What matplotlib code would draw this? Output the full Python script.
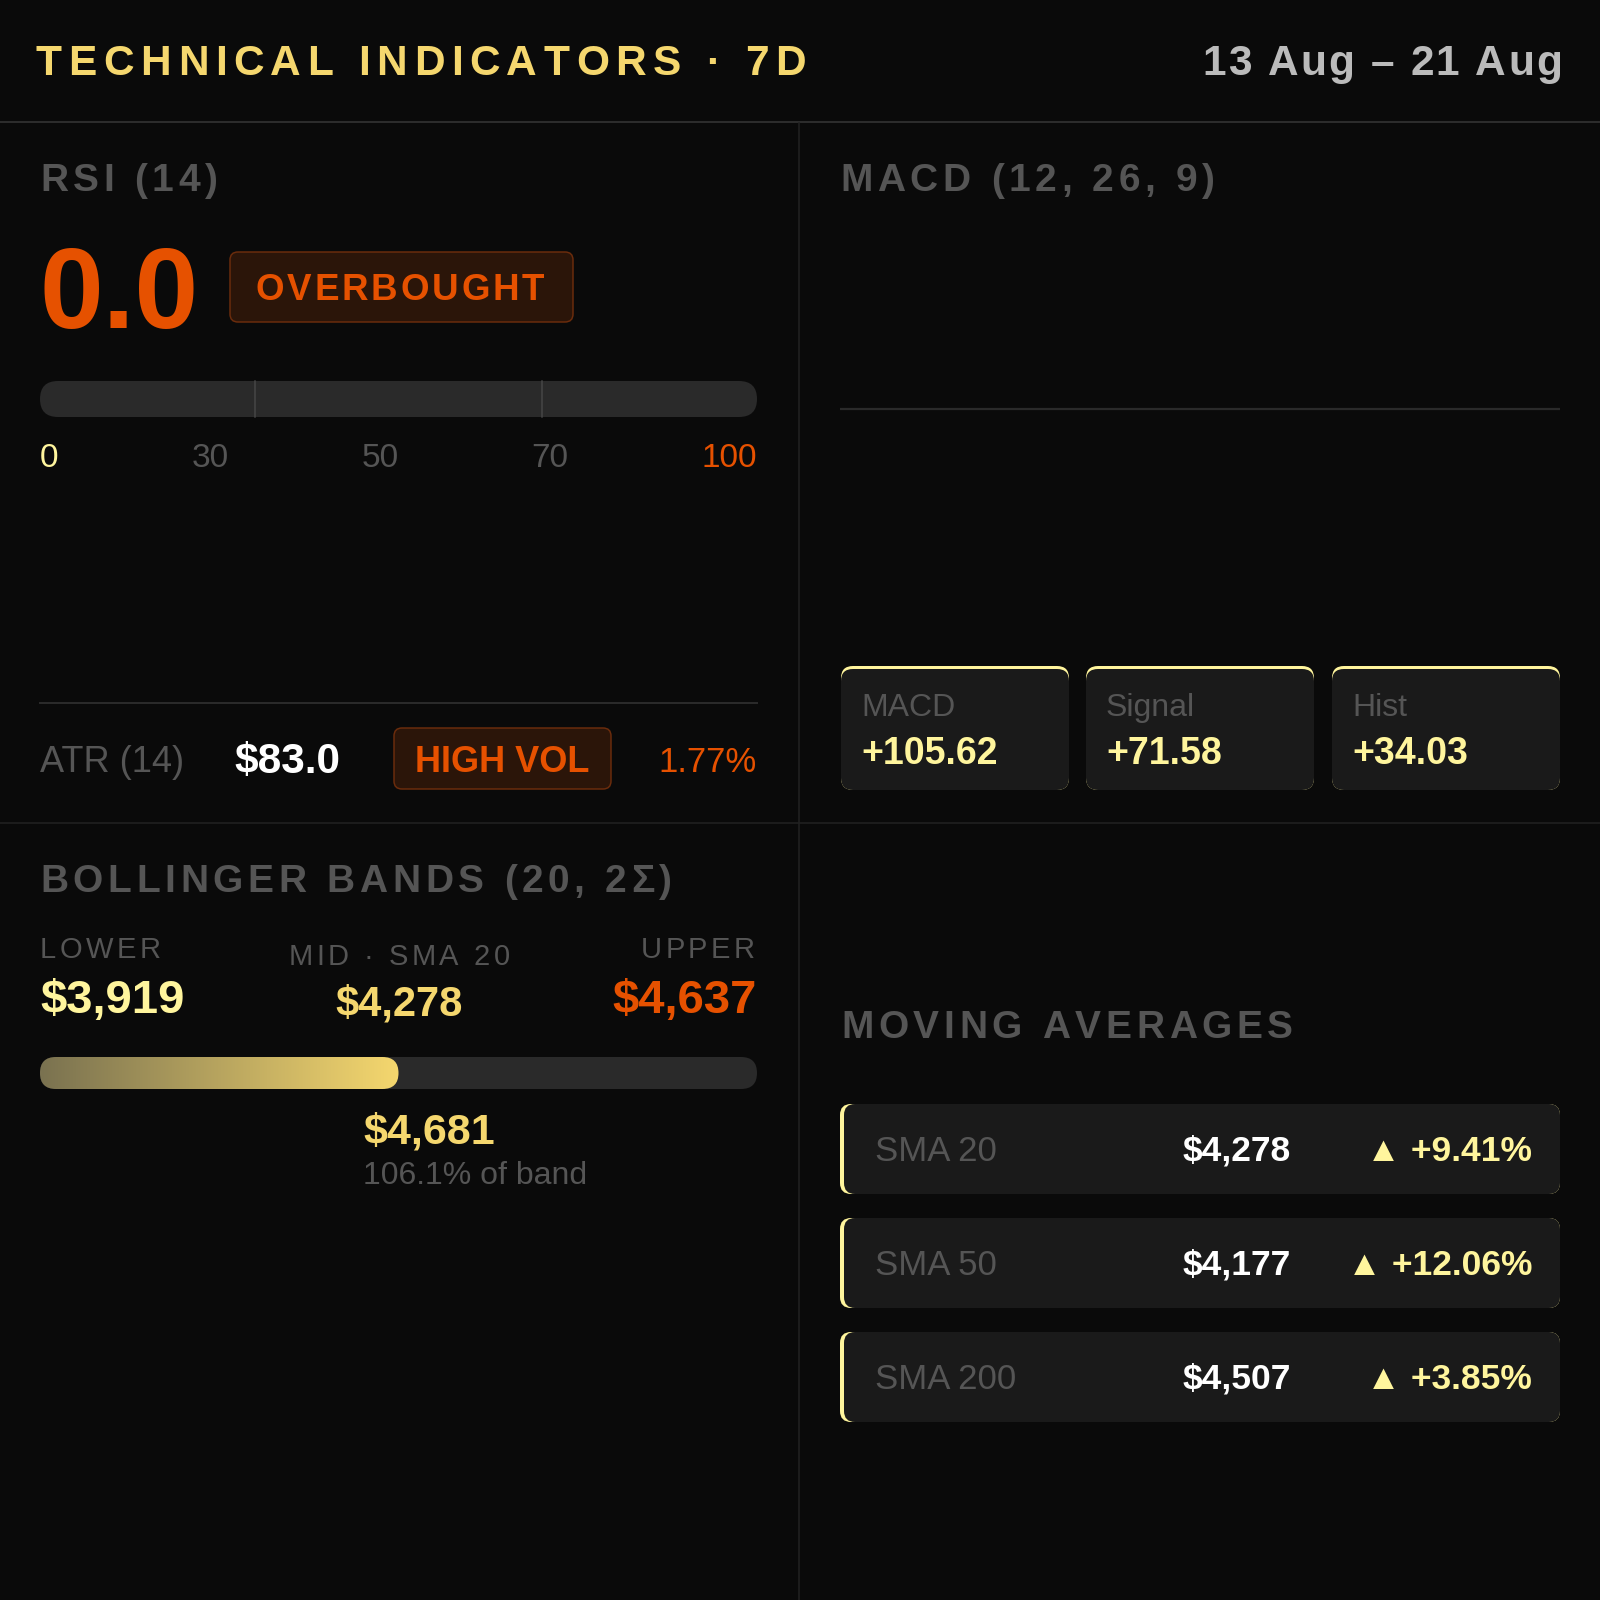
import matplotlib
matplotlib.use('Agg')
import matplotlib.pyplot as plt
import numpy as np
from matplotlib.patches import FancyBboxPatch
from matplotlib.font_manager import FontProperties
import matplotlib.colors as mcolors

# ---------------- data ----------------
title_text = "TECHNICAL INDICATORS · 7D"
date_range = "13 Aug – 21 Aug"

rsi_value = 0.0
rsi_status = "OVERBOUGHT"
rsi_zone_marks = [30, 70]
rsi_scale_labels = [0, 30, 50, 70, 100]

atr_value = 83.0
atr_pct = 1.77
atr_status = "HIGH VOL"

macd_names = ["MACD", "Signal", "Hist"]
macd_values = [105.62, 71.58, 34.03]

bb_labels = ["LOWER", "MID · SMA 20", "UPPER"]
bb_lower = 3919
bb_mid = 4278
bb_upper = 4637
bb_price = 4681
bb_pct_of_band = 106.1
bb_bar_fill_pct = 50  # fill level as drawn in the reference

ma_names = ["SMA 20", "SMA 50", "SMA 200"]
ma_values = [4278, 4177, 4507]
ma_changes = [9.41, 12.06, 3.85]

# ---------------- style ----------------
FAM = ['Liberation Sans', 'DejaVu Sans']
plt.rcParams['font.family'] = FAM

BG = '#0a0a0a'
LINE = '#2a2a2a'
GRAY = '#555555'
ORANGE = '#e65100'
GOLD = '#f5d76e'
PALE = '#fff59d'
CARD = '#1a1a1a'
TRACK = '#2a2a2a'
BADGE_FILL = '#2b1509'
BADGE_EDGE = '#6b2c0c'
PX = 0.72  # points per pixel at dpi 100

fig = plt.figure(figsize=(16, 16), dpi=100, facecolor=BG)
ax = fig.add_axes([0, 0, 1, 1])
ax.set_facecolor(BG)
ax.axis('off')
ax.set_xlim(0, 1600)
ax.set_ylim(1600, 0)
renderer = fig.canvas.get_renderer()


def fprop(size, weight):
    return FontProperties(family=FAM, size=size, weight=weight)


def text_w(s, size, weight):
    w, h, d = renderer.get_text_width_height_descent(s, fprop(size, weight), ismath=False)
    return w


_adv_cache = {}


def adv(ch, size, weight):
    key = (ch, size, weight)
    if key not in _adv_cache:
        _adv_cache[key] = text_w('|' + ch + '|', size, weight) - text_w('||', size, weight)
    return _adv_cache[key]


def T(x, y, s, size, color, weight='normal', ha='left', z=5):
    return ax.text(x, y, s, fontsize=size, color=color, fontweight=weight,
                   ha=ha, va='baseline', zorder=z)


def spaced(x, y, s, size, color, weight='normal', sp_em=0.1, ha='left', z=5):
    sp = sp_em * size / PX
    advs = [adv(c, size, weight) for c in s]
    total = sum(advs) + sp * (len(s) - 1)
    if ha == 'left':
        x0 = x
    elif ha == 'right':
        x0 = x - total
    else:
        x0 = x - total / 2
    pen = x0
    for c, a in zip(s, advs):
        if c != ' ':
            ax.text(pen + a / 2, y, c, fontsize=size, color=color, fontweight=weight,
                    ha='center', va='baseline', zorder=z)
        pen += a + sp


def rbox(x, y, w, h, r, fc, ec='none', lw=0, z=2):
    p = FancyBboxPatch((x, y), w, h, boxstyle=f"round,pad=0,rounding_size={r}",
                       facecolor=fc, edgecolor=ec, linewidth=lw, zorder=z,
                       transform=ax.transData)
    ax.add_patch(p)
    return p


# ---------------- header ----------------
spaced(36, 75, title_text, 30.5, GOLD, 'bold', sp_em=0.155, ha='left')
spaced(1562, 75, date_range, 30.5, '#bbbbbb', 'bold', sp_em=0.05, ha='right')

ax.plot([0, 1600], [122, 122], color='#2c2c2c', lw=2 * PX, zorder=1, solid_capstyle='butt')
ax.plot([799, 799], [122, 1600], color='#222222', lw=1.5 * PX, zorder=1, solid_capstyle='butt')
ax.plot([0, 1600], [823, 823], color='#222222', lw=1.5 * PX, zorder=1, solid_capstyle='butt')

# ---------------- RSI panel ----------------
L, R = 40, 757
spaced(L, 191, "RSI (14)", 28, GRAY, 'bold', sp_em=0.12)
T(L, 328, f"{rsi_value:.1f}", 82.5, ORANGE, 'bold')
rbox(230, 252, 343, 70, 8, BADGE_FILL, BADGE_EDGE, 1.5 * PX)
spaced(400, 300, rsi_status, 26.5, ORANGE, 'bold', sp_em=0.075, ha='center')

# gauge track with zone marks from the 0-100 scale
bar_y, bar_h = 381, 36
rbox(L, bar_y, R - L, bar_h, bar_h / 2, TRACK, z=2)
for v in rsi_zone_marks:
    xv = L + (R - L) * v / 100.0
    ax.plot([xv, xv], [bar_y, bar_y + bar_h], color='#464646', lw=1.5 * PX, zorder=3)

# scale labels distributed space-between
lab_strs = [str(v) for v in rsi_scale_labels]
lab_w = [text_w(s, 24, 'normal') for s in lab_strs]
gap = ((R - L) - sum(lab_w)) / (len(lab_strs) - 1)
pen = L
for i, (s, w) in enumerate(zip(lab_strs, lab_w)):
    if i == 0:
        c = PALE
    elif i == len(lab_strs) - 1:
        c = ORANGE
    else:
        c = GRAY
    T(pen + w / 2, 467, s, 24, c, ha='center')
    pen += w + gap

# ATR row
ax.plot([L, R], [703, 703], color=LINE, lw=2 * PX, zorder=1)
T(L, 772, "ATR (14)", 26, GRAY)
T(234, 773, f"${atr_value:.1f}", 30.5, 'white', 'bold')
rbox(394, 728, 217, 61, 8, BADGE_FILL, BADGE_EDGE, 1.5 * PX)
T(502.5, 772, atr_status, 26, ORANGE, 'bold', ha='center')
T(R, 772, f"{atr_pct:.2f}%", 25, ORANGE, ha='right')

# ---------------- MACD panel ----------------
spaced(840, 191, "MACD (12, 26, 9)", 28, GRAY, 'bold', sp_em=0.12)
# empty chart area with zero line
x0f, x1f = 840 / 1600, 1560 / 1600
top_px, bot_px = 220, 598
macd_ax = fig.add_axes([x0f, 1 - bot_px / 1600, x1f - x0f, (bot_px - top_px) / 1600])
macd_ax.set_xlim(0, 1)
macd_ax.set_ylim(-1, 1)
macd_ax.axhline(0, color=LINE, lw=2.2 * PX)
macd_ax.axis('off')

card_x = [841, 1086, 1332]
card_w, card_y, card_h = 228, 666, 124
for cx, name, val in zip(card_x, macd_names, macd_values):
    rbox(cx, card_y, card_w, card_h, 12, PALE, z=2)
    rbox(cx, card_y + 3, card_w, card_h - 3, 12, CARD, z=3)
    T(cx + 20, 716, name, 23, GRAY, z=5)
    T(cx + 20, 764, f"{val:+.2f}", 27, PALE, 'bold', z=5)

# ---------------- Bollinger panel ----------------
spaced(L, 892, "BOLLINGER BANDS (20, 2Σ)", 28, GRAY, 'bold', sp_em=0.12)
mid_x = (L + R) / 2 + 0.5
spaced(L, 958, bb_labels[0], 21, GRAY, 'normal', sp_em=0.12, ha='left')
spaced(mid_x, 965, bb_labels[1], 21, GRAY, 'normal', sp_em=0.12, ha='center')
spaced(R - 2, 958, bb_labels[2], 21, GRAY, 'normal', sp_em=0.12, ha='right')
T(L, 1013, f"${bb_lower:,}", 34, PALE, 'bold')
T(mid_x, 1016, f"${bb_mid:,}", 30, GOLD, 'bold', ha='center')
T(R, 1013, f"${bb_upper:,}", 34, ORANGE, 'bold', ha='right')

bb_y, bb_h = 1057, 32
rbox(L, bb_y, R - L, bb_h, bb_h / 2, TRACK, z=2)
fill_w = (R - L) * bb_bar_fill_pct / 100.0
clip = rbox(L, bb_y, fill_w, bb_h, bb_h / 2, 'none', z=1)
c0 = np.array(mcolors.to_rgb('#7a7250'))
c1 = np.array(mcolors.to_rgb(GOLD))
t = np.linspace(0, 1, 256)[None, :, None]
grad = c0 + (c1 - c0) * t
im = ax.imshow(grad, extent=[L, L + fill_w, bb_y + bb_h, bb_y], aspect='auto',
               interpolation='bilinear', zorder=3)
im.set_clip_path(clip)

T(363, 1144, f"${bb_price:,}", 31, GOLD, 'bold')
T(363, 1184, f"{bb_pct_of_band:.1f}% of band", 23, GRAY)

# ---------------- Moving averages panel ----------------
spaced(841, 1038, "MOVING AVERAGES", 28, GRAY, 'bold', sp_em=0.12)
row_y = [1104, 1218, 1332]
row_h = 90
for ry, name, val, chg in zip(row_y, ma_names, ma_values, ma_changes):
    rbox(840, ry, 720, row_h, 11, PALE, z=2)
    rbox(844, ry, 716, row_h, 11, CARD, z=3)
    base = ry + 57
    T(875, base, name, 25, GRAY, z=5)
    T(1291, base, f"${val:,}", 25.5, 'white', 'bold', ha='right', z=5)
    arrow = '▲' if chg >= 0 else '▼'
    T(1532, base, f"{arrow} {chg:+.2f}%", 25.5, PALE, 'bold', ha='right', z=5)

ax.set_xlim(0, 1600)
ax.set_ylim(1600, 0)

fig.savefig('out.png', dpi=100, facecolor=BG)
